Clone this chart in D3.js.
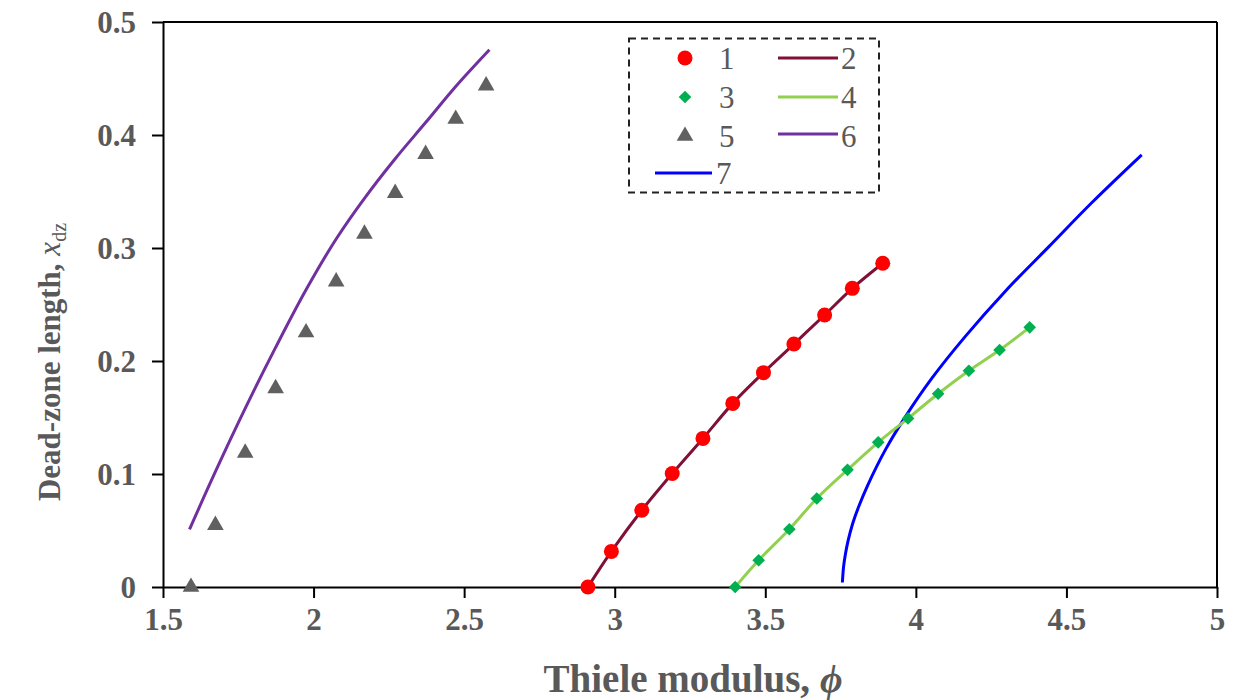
<!DOCTYPE html>
<html><head><meta charset="utf-8">
<script src="https://cdn.jsdelivr.net/npm/d3@7"></script>
<style>body{margin:0;background:#fff;} svg{display:block;}</style>
</head><body><svg id="c" width="1237" height="700"></svg>
<script>
// ---- data ----
const xTicks = [1.5, 2, 2.5, 3, 3.5, 4, 4.5, 5];
const xTickLabels = ["1.5", "2", "2.5", "3", "3.5", "4", "4.5", "5"];
const yTicks = [0, 0.1, 0.2, 0.3, 0.4, 0.5];
const yTickLabels = ["0", "0.1", "0.2", "0.3", "0.4", "0.5"];

// series 1 (markers) and 2 (line)
const s1x = [2.911, 2.989, 3.090, 3.191, 3.293, 3.392, 3.494, 3.595, 3.697, 3.789, 3.890];
const s1y = [0, 0.0315, 0.0679, 0.1004, 0.1315, 0.1625, 0.1897, 0.2150, 0.2407, 0.2643, 0.2865];
const s2x = [2.911, 2.989, 3.090, 3.191, 3.293, 3.392, 3.494, 3.595, 3.697, 3.789, 3.890];
const s2y = [0, 0.0315, 0.0679, 0.1004, 0.1315, 0.1625, 0.1897, 0.2150, 0.2407, 0.2643, 0.2865];
// series 3 (markers) and 4 (line)
const s3x = [3.400, 3.478, 3.580, 3.671, 3.773, 3.875, 3.974, 4.074, 4.176, 4.278, 4.378];
const s3y = [0, 0.0237, 0.0511, 0.0783, 0.1037, 0.1280, 0.1492, 0.1710, 0.1914, 0.2097, 0.2298];
const s4x = [3.400, 3.478, 3.580, 3.671, 3.773, 3.875, 3.974, 4.074, 4.176, 4.278, 4.378];
const s4y = [0, 0.0237, 0.0511, 0.0783, 0.1037, 0.1280, 0.1492, 0.1710, 0.1914, 0.2097, 0.2298];
// series 5 (markers)
const s5x = [1.593, 1.674, 1.773, 1.874, 1.975, 2.075, 2.169, 2.271, 2.372, 2.472, 2.573];
const s5y = [0, 0.0547, 0.1187, 0.1758, 0.2252, 0.2702, 0.3125, 0.3485, 0.3831, 0.4141, 0.4436];
// series 6 (line)
const s6x = [1.588, 1.674, 1.773, 1.874, 1.975, 2.075, 2.169, 2.271, 2.372, 2.472, 2.584];
const s6y = [0.051, 0.102, 0.158, 0.212, 0.263, 0.308, 0.344, 0.379, 0.411, 0.443, 0.4755];
// series 7 (line)
const s7x = [3.756, 3.760, 3.766, 3.775, 3.790, 3.810, 3.840, 3.900, 3.966, 4.054, 4.165, 4.298, 4.441, 4.584, 4.750];
const s7y = [0.004, 0.018, 0.029, 0.041, 0.056, 0.071, 0.090, 0.122, 0.151, 0.185, 0.222, 0.262, 0.301, 0.340, 0.3824];

const legendLabels = ["1", "2", "3", "4", "5", "6", "7"];

// ---- chart ----
const svg = d3.select("#c");
const x = d3.scaleLinear().domain([1.5, 5]).range([163, 1217]);
const y = d3.scaleLinear().domain([0, 0.5]).range([587, 22]);
const FONT = "'Liberation Serif', 'Times New Roman', serif";
const GREY = "#595959";

const zip = (a, b) => a.map((v, i) => [v, b[i]]);
const line = d3.line().x(d => x(d[0])).y(d => y(d[1])).curve(d3.curveCatmullRom.alpha(0.5));

// frame (top and right borders)
svg.append("line").attr("x1", x(1.5)).attr("x2", x(5)).attr("y1", y(0.5)).attr("y2", y(0.5))
  .attr("stroke", "#000").attr("stroke-width", 2);
svg.append("line").attr("x1", x(5)).attr("x2", x(5)).attr("y1", y(0.5)).attr("y2", y(0))
  .attr("stroke", "#000").attr("stroke-width", 2);

// axes
const xAxis = d3.axisBottom(x).tickValues(xTicks).tickSize(11).tickSizeOuter(0)
  .tickFormat((d, i) => xTickLabels[i]);
const gx = svg.append("g").attr("transform", `translate(0,${y(0)})`).call(xAxis);
const yAxis = d3.axisLeft(y).tickValues(yTicks).tickSize(11).tickSizeOuter(0)
  .tickFormat((d, i) => yTickLabels[i]);
const gy = svg.append("g").attr("transform", `translate(${x(1.5)},0)`).call(yAxis);
[gx, gy].forEach(g => {
  g.select(".domain").attr("stroke", "#000").attr("stroke-width", 2);
  g.selectAll(".tick line").attr("stroke", "#000").attr("stroke-width", 2);
  g.selectAll(".tick text").attr("font-family", FONT).attr("font-weight", "bold")
    .attr("font-size", 31).attr("fill", GREY);
});
gx.selectAll(".tick text").attr("y", 21).attr("dy", "0.71em");
gy.selectAll(".tick text").attr("x", -27).attr("dy", "0.34em");

// lines
const lines = [
  { xs: s7x, ys: s7y, c: "#0000ff" },
  { xs: s6x, ys: s6y, c: "#7030a0" },
  { xs: s4x, ys: s4y, c: "#92d050" },
  { xs: s2x, ys: s2y, c: "#7f1038" }
];
lines.forEach(L => {
  svg.append("path").datum(zip(L.xs, L.ys)).attr("d", line)
    .attr("fill", "none").attr("stroke", L.c).attr("stroke-width", 3);
});

// markers
svg.append("g").selectAll("circle").data(zip(s1x, s1y)).join("circle")
  .attr("cx", d => x(d[0])).attr("cy", d => y(d[1])).attr("r", 7.5).attr("fill", "#ff0000");
svg.append("g").selectAll("path").data(zip(s3x, s3y)).join("path")
  .attr("d", d3.symbol(d3.symbolSquare, 80))
  .attr("transform", d => `translate(${x(d[0])},${y(d[1])}) rotate(45)`).attr("fill", "#00b050");
svg.append("g").selectAll("path").data(zip(s5x, s5y)).join("path")
  .attr("d", d3.symbol(d3.symbolTriangle, 120))
  .attr("transform", d => `translate(${x(d[0])},${y(d[1])})`).attr("fill", "#606060");

// legend
const lg = svg.append("g");
lg.append("rect").attr("x", 629).attr("y", 38.5).attr("width", 250).attr("height", 154)
  .attr("fill", "#fff").attr("stroke", "#222").attr("stroke-width", 2).attr("stroke-dasharray", "7,5");
const rows = [58, 97, 136, 173];
const ltext = (tx, ty, s) => lg.append("text").attr("x", tx).attr("y", ty).attr("dy", "0.35em")
  .attr("font-family", FONT).attr("font-size", 31).attr("fill", GREY).text(s);
lg.append("circle").attr("cx", 685).attr("cy", rows[0]).attr("r", 7.5).attr("fill", "#ff0000");
ltext(719, rows[0], legendLabels[0]);
lg.append("line").attr("x1", 778).attr("x2", 838).attr("y1", rows[0]).attr("y2", rows[0]).attr("stroke", "#7f1038").attr("stroke-width", 3);
ltext(841, rows[0], legendLabels[1]);
lg.append("path").attr("d", d3.symbol(d3.symbolSquare, 80)).attr("transform", `translate(685,${rows[1]}) rotate(45)`).attr("fill", "#00b050");
ltext(719, rows[1], legendLabels[2]);
lg.append("line").attr("x1", 778).attr("x2", 838).attr("y1", rows[1]).attr("y2", rows[1]).attr("stroke", "#92d050").attr("stroke-width", 3);
ltext(841, rows[1], legendLabels[3]);
lg.append("path").attr("d", d3.symbol(d3.symbolTriangle, 120)).attr("transform", `translate(685,${rows[2]})`).attr("fill", "#606060");
ltext(719, rows[2], legendLabels[4]);
lg.append("line").attr("x1", 778).attr("x2", 838).attr("y1", rows[2] - 2).attr("y2", rows[2] - 2).attr("stroke", "#7030a0").attr("stroke-width", 3);
ltext(841, rows[2], legendLabels[5]);
lg.append("line").attr("x1", 655).attr("x2", 712).attr("y1", rows[3]).attr("y2", rows[3]).attr("stroke", "#0000ff").attr("stroke-width", 3);
ltext(716, rows[3], legendLabels[6]);

// axis titles
const xt = svg.append("text").attr("x", 693).attr("y", 692).attr("text-anchor", "middle")
  .attr("font-family", FONT).attr("font-weight", "bold").attr("font-size", 39).attr("fill", GREY);
xt.append("tspan").text("Thiele modulus, ");
xt.append("tspan").attr("font-style", "italic").text("\u03d5");

const yt = svg.append("text").attr("transform", "translate(60,362) rotate(-90)").attr("text-anchor", "middle")
  .attr("font-family", FONT).attr("font-weight", "bold").attr("font-size", 31).attr("fill", GREY);
yt.append("tspan").text("Dead-zone length, ");
yt.append("tspan").attr("font-style", "italic").attr("font-weight", "normal").text("x");
yt.append("tspan").attr("font-size", 20).attr("dy", 6).attr("font-weight", "normal").text("dz");
</script></body></html>
